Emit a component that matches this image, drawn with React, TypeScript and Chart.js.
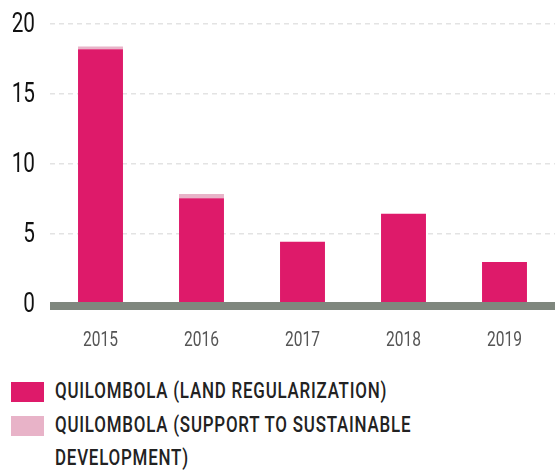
import React, { useEffect, useRef } from "react";
import { Chart, registerables } from "chart.js";

Chart.register(...registerables);

const years = ["2015", "2016", "2017", "2018", "2019"];
const landRegularization = [18.2, 7.55, 4.45, 6.45, 3.0];
const sustainableDevelopment = [0.2, 0.3, 0, 0, 0];
const yTicks = [0, 5, 10, 15, 20];

const legendItems = [
  { label: "QUILOMBOLA (LAND REGULARIZATION)", color: "#de1a6a" },
  { label: "QUILOMBOLA (SUPPORT TO SUSTAINABLE DEVELOPMENT)", color: "#e8b3c8" },
];

const FONT = "Roboto, 'Noto Sans', sans-serif";
const SQUEEZE = 0.74;
const LEGEND_SQUEEZE = 0.77;

const zeroBand = {
  id: "zeroBand",
  afterDatasetsDraw(chart: any) {
    const { ctx, chartArea, scales } = chart;
    const y0 = scales.y.getPixelForValue(0);
    ctx.save();
    ctx.fillStyle = "#7f877e";
    ctx.fillRect(chartArea.left, y0 - 2, chartArea.right - chartArea.left, 8);
    ctx.restore();
  },
};

function squeezedText(ctx: any, text: string, x: number, y: number, align: string) {
  ctx.save();
  ctx.translate(x, y);
  ctx.scale(SQUEEZE, 1);
  ctx.textAlign = align;
  ctx.textBaseline = "middle";
  ctx.fillText(text, 0, 0);
  ctx.restore();
}

const condensedLabels = {
  id: "condensedLabels",
  afterDraw(chart: any) {
    const { ctx, scales } = chart;
    const y0 = scales.y.getPixelForValue(0);
    ctx.save();
    ctx.font = `400 21px ${FONT}`;
    ctx.fillStyle = "#555555";
    years.forEach((lab, i) => {
      squeezedText(ctx, lab, scales.x.getPixelForTick(i), y0 + 37, "center");
    });
    ctx.font = `400 28px ${FONT}`;
    ctx.fillStyle = "#111111";
    yTicks.forEach((v) => {
      squeezedText(ctx, String(v), 35, scales.y.getPixelForValue(v) + 1, "right");
    });
    ctx.restore();
  },
};

export default function App() {
  const ref = useRef<HTMLCanvasElement>(null);
  useEffect(() => {
    document.body.style.margin = "0";
    const chart = new Chart(ref.current!, {
      type: "bar",
      data: {
        labels: years,
        datasets: [
          {
            label: legendItems[0].label,
            data: landRegularization,
            backgroundColor: legendItems[0].color,
            barPercentage: 1,
            categoryPercentage: 0.445,
          },
          {
            label: legendItems[1].label,
            data: sustainableDevelopment,
            backgroundColor: legendItems[1].color,
            barPercentage: 1,
            categoryPercentage: 0.445,
          },
        ],
      },
      options: {
        animation: false,
        responsive: false,
        layout: { padding: { top: 24, right: 0, bottom: 0, left: 0 } },
        plugins: { legend: { display: false }, tooltip: { enabled: false } },
        scales: {
          x: {
            stacked: true,
            grid: { display: false },
            border: { display: false },
            ticks: { display: false },
            afterFit: (scale: any) => {
              scale.height = 56;
            },
          },
          y: {
            stacked: true,
            min: 0,
            max: 20,
            afterFit: (scale: any) => {
              scale.width = 50;
            },
            afterBuildTicks: (scale: any) => {
              scale.ticks = yTicks.map((v) => ({ value: v }));
            },
            grid: {
              drawTicks: false,
              color: (ctx: any) => (ctx.tick && ctx.tick.value === 0 ? "rgba(0,0,0,0)" : "#e3e3e3"),
              lineWidth: 1.5,
            },
            border: { display: false, dash: [5, 4] },
            ticks: { display: false },
          },
        },
      },
      plugins: [zeroBand, condensedLabels],
    });
    return () => chart.destroy();
  }, []);

  return (
    <div style={{ position: "absolute", left: 0, top: 0, width: 555, height: 470, background: "#fff" }}>
      <canvas ref={ref} width={555} height={360} style={{ display: "block", width: 555, height: 360 }} />
      <div style={{ position: "absolute", left: 11, top: 374, width: 440 }}>
        {legendItems.map((it) => (
          <div key={it.label} style={{ display: "flex", alignItems: "flex-start" }}>
            <div style={{ width: 33, height: 20, background: it.color, flex: "0 0 auto", marginTop: 8 }} />
            <div style={{ marginLeft: 11, width: 370, overflow: "visible" }}>
              <div
                style={{
                  fontFamily: FONT,
                  fontSize: 22,
                  fontWeight: 500,
                  lineHeight: "33.5px",
                  letterSpacing: 1,
                  color: "#222",
                  width: 370 / LEGEND_SQUEEZE,
                  transform: `scaleX(${LEGEND_SQUEEZE})`,
                  transformOrigin: "left top",
                }}
              >
                {it.label}
              </div>
            </div>
          </div>
        ))}
      </div>
    </div>
  );
}
